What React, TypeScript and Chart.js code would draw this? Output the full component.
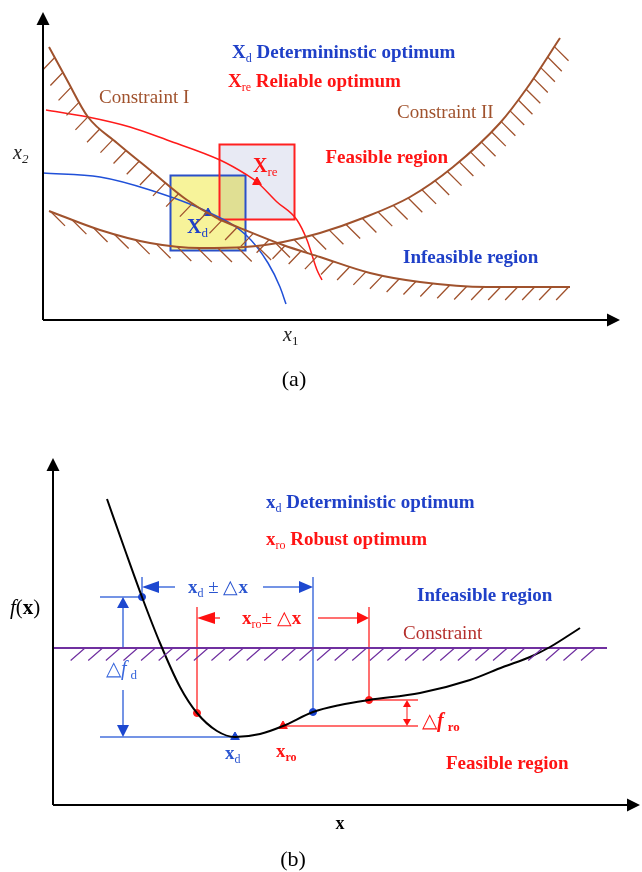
import React, { useEffect, useRef } from 'react';
import { Chart, registerables } from 'chart.js';
Chart.register(...registerables);

// ---------- Figure (a): design space x1 / x2 (schematic units) ----------
const constraint1X = [6, 24, 45, 74, 107, 144, 174, 202, 240, 277, 327, 377, 444, 527];
const constraint1Y = [273, 240, 203, 177, 150, 120, 102, 90, 75, 63, 47, 38, 33, 33];
const constraint2X = [6, 57, 107, 157, 202, 240, 277, 320, 367, 410, 457, 484, 517];
const constraint2Y = [109, 90, 77, 72, 73, 78, 87, 102, 123, 153, 197, 232, 282];
const reliableCurveX = [3, 45, 87, 124, 177, 204, 214, 234, 254, 264, 274, 279];
const reliableCurveY = [210, 203, 193, 180, 160, 145, 138, 118, 100, 80, 50, 40];
const detCurveX = [0, 57, 107, 165, 203, 225, 237, 243];
const detCurveY = [147, 143, 130, 108, 85, 57, 33, 16];
const optimumD = [165, 107];
const optimumRe = [214, 138];
const boxHalf = 37.5;
const axisA = { xEnd: 577, yEnd: 308 };

// ---------- Figure (b): f(x) ----------
const fCurveX = [54, 72, 89, 107, 127, 144, 164, 182, 207, 230, 260, 287, 316, 367, 417, 450, 477, 497, 527];
const fCurveY = [306, 255, 208, 162, 118, 92, 74, 68, 71, 79, 93, 100, 105, 112, 125, 138, 148, 158, 177];
const constraintLevel = 157;
const constraintRange = [0, 554];
const xd = 182;
const xro = 230;
const xdBand = [89, 260]; // xd ± Δx
const xroBand = [144, 316]; // xro ± Δx
const axisB = { xEnd: 587, yEnd: 347 };

const fAt = (x: number) => fCurveY[fCurveX.indexOf(x)];

const SERIF = '"Liberation Serif", "Times New Roman", serif';
const BROWN = '#a0522d';
const BLUE = '#1f40c8';
const RED = '#ff1414';

type Seg = { t: string; size?: number; w?: string; it?: boolean; sub?: boolean; color?: string };

function drawRich(ctx: CanvasRenderingContext2D, segs: Seg[], x: number, y: number, color: string, base: number, align: 'left' | 'center' | 'right' = 'left') {
  const fontOf = (s: Seg) => {
    const sz = s.sub ? Math.round((s.size ?? base) * 0.65) : (s.size ?? base);
    return `${s.it ? 'italic ' : ''}${s.w ?? 'normal'} ${sz}px ${SERIF}`;
  };
  let total = 0;
  for (const s of segs) { ctx.font = fontOf(s); total += ctx.measureText(s.t).width; }
  let cx = align === 'left' ? x : align === 'center' ? x - total / 2 : x - total;
  ctx.textAlign = 'left';
  ctx.textBaseline = 'alphabetic';
  for (const s of segs) {
    ctx.font = fontOf(s);
    ctx.fillStyle = s.color ?? color;
    ctx.fillText(s.t, cx, s.sub ? y + base * 0.22 : y);
    cx += ctx.measureText(s.t).width;
  }
}

function arrow(ctx: CanvasRenderingContext2D, x1: number, y1: number, x2: number, y2: number, color: string, lw: number, hl: number, hw: number, headColor?: string) {
  const ang = Math.atan2(y2 - y1, x2 - x1);
  const bx = x2 - Math.cos(ang) * hl, by = y2 - Math.sin(ang) * hl;
  ctx.strokeStyle = color; ctx.lineWidth = lw;
  ctx.beginPath(); ctx.moveTo(x1, y1); ctx.lineTo(bx, by); ctx.stroke();
  ctx.fillStyle = headColor ?? color;
  ctx.beginPath(); ctx.moveTo(x2, y2);
  ctx.lineTo(bx + Math.sin(ang) * hw, by - Math.cos(ang) * hw);
  ctx.lineTo(bx - Math.sin(ang) * hw, by + Math.cos(ang) * hw);
  ctx.closePath(); ctx.fill();
}

function line(ctx: CanvasRenderingContext2D, x1: number, y1: number, x2: number, y2: number, color: string, lw: number) {
  ctx.strokeStyle = color; ctx.lineWidth = lw;
  ctx.beginPath(); ctx.moveTo(x1, y1); ctx.lineTo(x2, y2); ctx.stroke();
}

function curveSamples(chart: any, dsIndex: number): [number, number][] {
  const pts: any[] = chart.getDatasetMeta(dsIndex).data;
  const out: [number, number][] = [];
  for (let i = 0; i < pts.length - 1; i++) {
    const a = pts[i], b = pts[i + 1];
    const c1x = a.cp2x ?? a.x, c1y = a.cp2y ?? a.y, c2x = b.cp1x ?? b.x, c2y = b.cp1y ?? b.y;
    for (let k = 0; k < 30; k++) {
      const t = k / 30, u = 1 - t;
      out.push([
        u * u * u * a.x + 3 * u * u * t * c1x + 3 * u * t * t * c2x + t * t * t * b.x,
        u * u * u * a.y + 3 * u * u * t * c1y + 3 * u * t * t * c2y + t * t * t * b.y,
      ]);
    }
  }
  const last = pts[pts.length - 1];
  out.push([last.x, last.y]);
  return out;
}

function drawHatches(ctx: CanvasRenderingContext2D, samples: [number, number][], dir: [number, number], len: number, sp0: number, sp1: number, offset: number, color: string, width: number) {
  const cum = [0];
  for (let i = 1; i < samples.length; i++) {
    cum.push(cum[i - 1] + Math.hypot(samples[i][0] - samples[i - 1][0], samples[i][1] - samples[i - 1][1]));
  }
  const total = cum[cum.length - 1];
  const n = Math.hypot(dir[0], dir[1]);
  const dx = (dir[0] / n) * len, dy = (dir[1] / n) * len;
  ctx.save();
  ctx.strokeStyle = color; ctx.lineWidth = width;
  ctx.beginPath();
  let s = offset, j = 0;
  while (s <= total) {
    while (j < cum.length - 2 && cum[j + 1] < s) j++;
    const seg = cum[j + 1] - cum[j] || 1;
    const f = (s - cum[j]) / seg;
    const px = samples[j][0] + (samples[j + 1][0] - samples[j][0]) * f;
    const py = samples[j][1] + (samples[j + 1][1] - samples[j][1]) * f;
    ctx.moveTo(px, py); ctx.lineTo(px + dx, py + dy);
    s += sp0 + (sp1 - sp0) * (s / total);
  }
  ctx.stroke();
  ctx.restore();
}

const zip = (xs: number[], ys: number[]) => xs.map((x, i) => ({ x, y: ys[i] }));

function baseOptions(xMin: number, xMax: number, yMin: number, yMax: number): any {
  return {
    responsive: false,
    animation: false,
    devicePixelRatio: 1,
    events: [],
    layout: { padding: 0, autoPadding: false },
    plugins: { legend: { display: false }, tooltip: { enabled: false } },
    scales: {
      x: { type: 'linear', display: false, min: xMin, max: xMax },
      y: { type: 'linear', display: false, min: yMin, max: yMax },
    },
  };
}

function curveDs(xs: number[], ys: number[], color: string, width: number): any {
  return {
    data: zip(xs, ys), showLine: true, borderColor: color, borderWidth: width,
    pointRadius: 0, cubicInterpolationMode: 'monotone', fill: false,
  };
}

function markerDs(pts: { x: number; y: number }[], color: string, style: string, r: number): any {
  return {
    data: pts, showLine: false, pointStyle: style, pointRadius: r,
    backgroundColor: color, borderColor: color, borderWidth: 1,
  };
}

function topConfig(): any {
  const plugin = {
    id: 'figA',
    beforeDatasetsDraw(chart: any) {
      const ctx: CanvasRenderingContext2D = chart.ctx;
      const X = (v: number) => chart.scales.x.getPixelForValue(v);
      const Y = (v: number) => chart.scales.y.getPixelForValue(v);
      const rect = (c: number[]) => [X(c[0] - boxHalf), Y(c[1] + boxHalf), X(c[0] + boxHalf) - X(c[0] - boxHalf), Y(c[1] - boxHalf) - Y(c[1] + boxHalf)];
      const rr = rect(optimumRe), rb = rect(optimumD);
      ctx.save();
      ctx.fillStyle = '#e8eaf4';
      ctx.fillRect(rr[0], rr[1], rr[2], rr[3]);
      ctx.globalCompositeOperation = 'multiply';
      ctx.fillStyle = '#f7f39a';
      ctx.fillRect(rb[0], rb[1], rb[2], rb[3]);
      ctx.globalCompositeOperation = 'source-over';
      ctx.lineWidth = 2;
      ctx.strokeStyle = '#2a50c8';
      ctx.strokeRect(rb[0], rb[1], rb[2], rb[3]);
      ctx.strokeStyle = '#ff2020';
      ctx.strokeRect(rr[0], rr[1], rr[2], rr[3]);
      ctx.restore();
    },
    afterDatasetsDraw(chart: any) {
      const ctx: CanvasRenderingContext2D = chart.ctx;
      const X = (v: number) => chart.scales.x.getPixelForValue(v);
      const Y = (v: number) => chart.scales.y.getPixelForValue(v);
      ctx.save();
      drawHatches(ctx, curveSamples(chart, 0), [-0.72, 0.75], 18, 17, 17, 12, BROWN, 1.3);
      drawHatches(ctx, curveSamples(chart, 1), [1, 1], 20, 23, 12, 2, BROWN, 1.3);
      // axes
      arrow(ctx, X(0), Y(0), X(0), Y(axisA.yEnd), '#000', 2, 13, 6.5);
      arrow(ctx, X(0), Y(0), X(axisA.xEnd), Y(0), '#000', 2, 13, 6.5);
      // labels
      drawRich(ctx, [{ t: 'x', it: true }, { t: '2', sub: true, it: true }], X(-30), Y(161), '#222', 20);
      drawRich(ctx, [{ t: 'x', it: true }, { t: '1', sub: true }], X(240), Y(-21), '#222', 20);
      drawRich(ctx, [{ t: '(a)' }], X(251), Y(-66), '#000', 22, 'center');
      drawRich(ctx, [{ t: 'X', w: 'bold' }, { t: 'd', sub: true }, { t: ' Determininstic optimum', w: 'bold' }], X(189), Y(262), BLUE, 19);
      drawRich(ctx, [{ t: 'X', w: 'bold' }, { t: 're', sub: true }, { t: ' Reliable optimum', w: 'bold' }], X(185), Y(233), RED, 19);
      drawRich(ctx, [{ t: 'Constraint I' }], X(56), Y(217), BROWN, 19);
      drawRich(ctx, [{ t: 'Constraint II' }], X(354), Y(202), BROWN, 19);
      drawRich(ctx, [{ t: 'Feasible region', w: 'bold' }], X(405), Y(157), RED, 19, 'right');
      drawRich(ctx, [{ t: 'Infeasible region', w: 'bold' }], X(360), Y(57), BLUE, 19);
      drawRich(ctx, [{ t: 'X', w: 'bold' }, { t: 're', sub: true }], X(210), Y(148), RED, 20);
      drawRich(ctx, [{ t: 'X', w: 'bold' }, { t: 'd', sub: true }], X(144), Y(87), BLUE, 20);
      ctx.restore();
    },
  };
  return {
    type: 'scatter',
    data: {
      datasets: [
        curveDs(constraint1X, constraint1Y, BROWN, 2),
        curveDs(constraint2X, constraint2Y, BROWN, 2),
        curveDs(reliableCurveX, reliableCurveY, '#ff1a1a', 1.5),
        curveDs(detCurveX, detCurveY, '#2050d8', 1.5),
        markerDs([{ x: optimumD[0], y: optimumD[1] }], '#1a40d0', 'triangle', 5),
        markerDs([{ x: optimumRe[0], y: optimumRe[1] }], '#ff1010', 'triangle', 5),
      ],
    },
    options: baseOptions(-43, 599, -80, 320),
    plugins: [plugin],
  };
}

function bottomConfig(): any {
  const BL = '#4670dc', BLH = '#1d48d0', RL = '#ff4040', RLH = '#ff1010';
  const plugin = {
    id: 'figB',
    beforeDatasetsDraw(chart: any) {
      const ctx: CanvasRenderingContext2D = chart.ctx;
      const X = (v: number) => chart.scales.x.getPixelForValue(v);
      const Y = (v: number) => chart.scales.y.getPixelForValue(v);
      ctx.save();
      // blue dimension (xd ± Δx)
      line(ctx, X(xdBand[0]), Y(228), X(xdBand[0]), Y(fAt(xdBand[0])), BL, 1.5);
      line(ctx, X(xdBand[1]), Y(228), X(xdBand[1]), Y(fAt(xdBand[1])), BL, 1.5);
      arrow(ctx, X(122), Y(218), X(xdBand[0]), Y(218), BL, 1.5, 17, 6, BLH);
      arrow(ctx, X(210), Y(218), X(xdBand[1]), Y(218), BL, 1.5, 14, 6, BLH);
      line(ctx, X(47), Y(fAt(xdBand[0])), X(xdBand[0]), Y(fAt(xdBand[0])), BL, 1.5);
      line(ctx, X(47), Y(fAt(xd)), X(xd), Y(fAt(xd)), BL, 1.5);
      arrow(ctx, X(70), Y(constraintLevel), X(70), Y(fAt(xdBand[0])), BL, 1.5, 11, 6, BLH);
      arrow(ctx, X(70), Y(115), X(70), Y(fAt(xd)), BL, 1.5, 12, 6, BLH);
      // red dimension (xro ± Δx)
      line(ctx, X(xroBand[0]), Y(198), X(xroBand[0]), Y(fAt(xroBand[0])), RL, 1.5);
      line(ctx, X(xroBand[1]), Y(198), X(xroBand[1]), Y(fAt(xroBand[1])), RL, 1.5);
      arrow(ctx, X(167), Y(187), X(xroBand[0]), Y(187), RL, 1.5, 18, 6, RLH);
      arrow(ctx, X(265), Y(187), X(xroBand[1]), Y(187), RL, 1.5, 12, 6, RLH);
      line(ctx, X(xroBand[1]), Y(fAt(xroBand[1])), X(365), Y(fAt(xroBand[1])), RL, 1.5);
      line(ctx, X(xro), Y(fAt(xro)), X(365), Y(fAt(xro)), RL, 1.5);
      const midY = (fAt(xroBand[1]) + fAt(xro)) / 2;
      arrow(ctx, X(354), Y(midY), X(354), Y(fAt(xroBand[1])), RL, 1.2, 7, 4, RLH);
      arrow(ctx, X(354), Y(midY), X(354), Y(fAt(xro)), RL, 1.2, 7, 4, RLH);
      ctx.restore();
    },
    afterDatasetsDraw(chart: any) {
      const ctx: CanvasRenderingContext2D = chart.ctx;
      const X = (v: number) => chart.scales.x.getPixelForValue(v);
      const Y = (v: number) => chart.scales.y.getPixelForValue(v);
      ctx.save();
      drawHatches(ctx, curveSamples(chart, 1), [-15, 13], 19, 17.6, 17.6, 32, '#7030a0', 1.2);
      arrow(ctx, X(0), Y(0), X(0), Y(axisB.yEnd), '#000', 2, 13, 6.5);
      arrow(ctx, X(0), Y(0), X(axisB.xEnd), Y(0), '#000', 2, 13, 6.5);
      drawRich(ctx, [{ t: 'f', it: true }, { t: '(' }, { t: 'x', w: 'bold' }, { t: ')' }], X(-43), Y(191), '#000', 21);
      drawRich(ctx, [{ t: 'x', w: 'bold' }], X(287), Y(-24), '#000', 18, 'center');
      drawRich(ctx, [{ t: '(b)' }], X(240), Y(-61), '#000', 22, 'center');
      drawRich(ctx, [{ t: 'x', w: 'bold' }, { t: 'd', sub: true }, { t: ' Deterministic optimum', w: 'bold' }], X(213), Y(297), BLUE, 19);
      drawRich(ctx, [{ t: 'x', w: 'bold' }, { t: 'ro', sub: true }, { t: ' Robust optimum', w: 'bold' }], X(213), Y(260), RED, 19);
      drawRich(ctx, [{ t: 'Infeasible region', w: 'bold' }], X(364), Y(204), BLUE, 19);
      drawRich(ctx, [{ t: 'Constraint' }], X(350), Y(166), '#b5302c', 19);
      drawRich(ctx, [{ t: 'Feasible region', w: 'bold' }], X(393), Y(36), RED, 19);
      drawRich(ctx, [{ t: 'x', w: 'bold' }, { t: 'd', sub: true }, { t: ' ± ' }, { t: '△' }, { t: 'x', w: 'bold' }], X(135), Y(212), '#2a55d0', 19);
      drawRich(ctx, [{ t: 'x', w: 'bold' }, { t: 'ro', sub: true }, { t: '± ' }, { t: '△' }, { t: 'x', w: 'bold' }], X(189), Y(181), RED, 19);
      drawRich(ctx, [{ t: '△' }, { t: 'f', it: true }, { t: '\u2009' }, { t: 'd', sub: true }], X(53), Y(130), '#3a68dc', 20);
      drawRich(ctx, [{ t: '△' }, { t: 'f', it: true, w: 'bold' }, { t: '\u2009' }, { t: 'ro', sub: true, w: 'bold' }], X(369), Y(78), RED, 20);
      drawRich(ctx, [{ t: 'x', w: 'bold' }, { t: 'd', sub: true }], X(172), Y(46), '#2a55d0', 19);
      drawRich(ctx, [{ t: 'x', w: 'bold' }, { t: 'ro', sub: true, w: 'bold' }], X(223), Y(48), RED, 19);
      ctx.restore();
    },
  };
  return {
    type: 'scatter',
    data: {
      datasets: [
        curveDs(fCurveX, fCurveY, '#000', 2),
        { data: [{ x: constraintRange[0], y: constraintLevel }, { x: constraintRange[1], y: constraintLevel }], showLine: true, borderColor: '#7030a0', borderWidth: 2, pointRadius: 0, tension: 0 },
        markerDs(xdBand.map((x) => ({ x, y: fAt(x) })), '#1a44d0', 'circle', 3.5),
        markerDs(xroBand.map((x) => ({ x, y: fAt(x) })), '#ff1a1a', 'circle', 3.5),
        markerDs([{ x: xd, y: fAt(xd) }], '#1a44d0', 'triangle', 5),
        markerDs([{ x: xro, y: fAt(xro) }], '#ff1a1a', 'triangle', 5),
      ],
    },
    options: baseOptions(-53, 589, -67, 405),
    plugins: [plugin],
  };
}

export default function App() {
  const topRef = useRef<HTMLCanvasElement>(null);
  const botRef = useRef<HTMLCanvasElement>(null);
  useEffect(() => {
    const c1 = new Chart(topRef.current as HTMLCanvasElement, topConfig());
    const c2 = new Chart(botRef.current as HTMLCanvasElement, bottomConfig());
    return () => { c1.destroy(); c2.destroy(); };
  }, []);
  return (
    <div style={{ position: 'absolute', left: 0, top: 0, width: 642, height: 872, background: '#fff' }}>
      <canvas ref={topRef} width={642} height={400} style={{ display: 'block', width: 642, height: 400 }} />
      <canvas ref={botRef} width={642} height={472} style={{ display: 'block', width: 642, height: 472 }} />
    </div>
  );
}
